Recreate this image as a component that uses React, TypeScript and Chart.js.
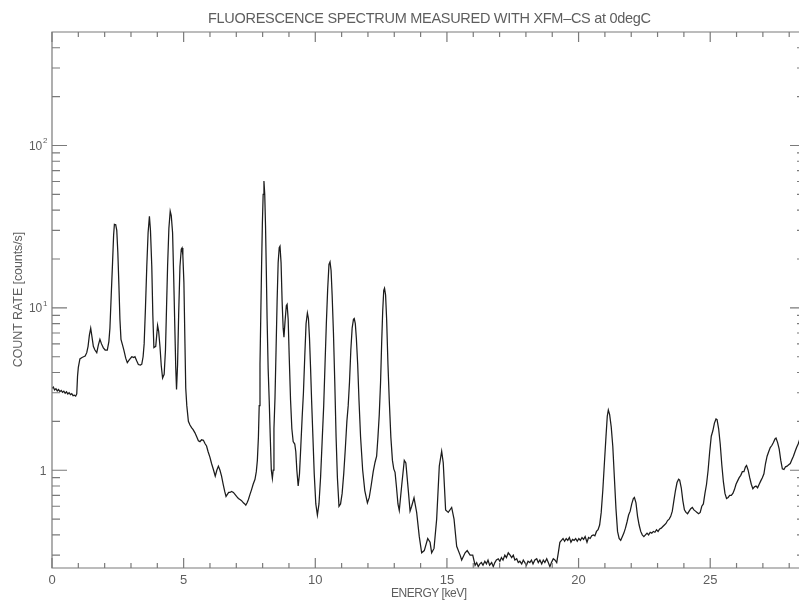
import React, { useEffect, useRef } from "react";
import { Chart, registerables } from "chart.js";

Chart.register(...registerables);

// ---- DATA ----
const energy: number[] = [
  0.0, 0.05, 0.1, 0.15, 0.2, 0.25, 0.3, 0.35, 0.4, 0.45,
  0.5, 0.55, 0.6, 0.65, 0.7, 0.75, 0.8, 0.85, 0.9, 0.94,
  0.97, 1.0, 1.06, 1.14, 1.2, 1.26, 1.32, 1.37, 1.42, 1.47,
  1.52, 1.57, 1.63, 1.7, 1.76, 1.82, 1.88, 1.95, 2.02, 2.1,
  2.16, 2.2, 2.25, 2.3, 2.34, 2.37, 2.42, 2.46, 2.5, 2.54,
  2.58, 2.62, 2.68, 2.73, 2.8, 2.86, 2.94, 3.03, 3.1, 3.15,
  3.22, 3.28, 3.36, 3.41, 3.46, 3.5, 3.55, 3.6, 3.65, 3.7,
  3.74, 3.79, 3.83, 3.87, 3.94, 4.01, 4.05, 4.1, 4.15, 4.2,
  4.26, 4.31, 4.35, 4.39, 4.44, 4.49, 4.53, 4.58, 4.62, 4.67,
  4.7, 4.73, 4.77, 4.81, 4.86, 4.91, 4.94, 4.97, 5.01, 5.05,
  5.08, 5.12, 5.18, 5.24, 5.3, 5.36, 5.43, 5.5, 5.56, 5.62,
  5.68, 5.75, 5.81, 5.87, 5.93, 6.0, 6.06, 6.13, 6.2, 6.26,
  6.32, 6.38, 6.44, 6.5, 6.56, 6.61, 6.66, 6.71, 6.76, 6.82,
  6.89, 6.95, 7.01, 7.08, 7.14, 7.2, 7.27, 7.32, 7.36, 7.41,
  7.46, 7.52, 7.58, 7.64, 7.71, 7.76, 7.8, 7.84, 7.87, 7.9,
  7.93, 7.96, 7.99, 8.02, 8.05, 8.08, 8.11, 8.14, 8.17, 8.21,
  8.25, 8.29, 8.33, 8.37, 8.4, 8.43, 8.47, 8.51, 8.55, 8.59,
  8.63, 8.66, 8.7, 8.74, 8.78, 8.81, 8.85, 8.9, 8.93, 8.97,
  9.01, 9.06, 9.11, 9.16, 9.22, 9.26, 9.3, 9.35, 9.4, 9.45,
  9.5, 9.55, 9.6, 9.65, 9.7, 9.74, 9.78, 9.82, 9.86, 9.91,
  9.96, 10.02, 10.08, 10.14, 10.2, 10.26, 10.32, 10.37, 10.42, 10.47,
  10.52, 10.56, 10.6, 10.64, 10.69, 10.74, 10.79, 10.84, 10.9, 10.96,
  11.02, 11.08, 11.14, 11.2, 11.25, 11.3, 11.35, 11.4, 11.45, 11.48,
  11.52, 11.56, 11.61, 11.66, 11.72, 11.8, 11.88, 11.98, 12.05, 12.12,
  12.2, 12.27, 12.33, 12.38, 12.43, 12.48, 12.52, 12.56, 12.6, 12.63,
  12.67, 12.71, 12.76, 12.81, 12.87, 12.93, 12.98, 13.03, 13.08, 13.14,
  13.19, 13.28, 13.38, 13.44, 13.53, 13.6, 13.66, 13.75, 13.85, 13.95,
  14.04, 14.14, 14.27, 14.36, 14.42, 14.51, 14.61, 14.71, 14.8, 14.86,
  14.95, 15.05, 15.18, 15.27, 15.37, 15.5, 15.56, 15.69, 15.77, 15.88,
  15.98, 16.07, 16.13, 16.19, 16.25, 16.31, 16.37, 16.44, 16.5, 16.56,
  16.62, 16.7, 16.76, 16.82, 16.88, 16.95, 17.01, 17.07, 17.13, 17.2,
  17.26, 17.33, 17.4, 17.46, 17.52, 17.58, 17.65, 17.71, 17.77, 17.84,
  17.9, 17.96, 18.02, 18.08, 18.15, 18.21, 18.27, 18.34, 18.41, 18.47,
  18.53, 18.6, 18.66, 18.72, 18.79, 18.85, 18.91, 18.97, 19.04, 19.1,
  19.17, 19.23, 19.29, 19.35, 19.41, 19.47, 19.53, 19.59, 19.65, 19.71,
  19.77, 19.83, 19.89, 19.95, 20.01, 20.07, 20.13, 20.19, 20.25, 20.32,
  20.38, 20.44, 20.5, 20.56, 20.62, 20.68, 20.74, 20.8, 20.86, 20.92,
  20.98, 21.04, 21.09, 21.13, 21.18, 21.24, 21.3, 21.36, 21.42, 21.48,
  21.54, 21.6, 21.66, 21.72, 21.78, 21.84, 21.9, 21.96, 22.02, 22.08,
  22.12, 22.18, 22.24, 22.3, 22.36, 22.42, 22.48, 22.54, 22.6, 22.66,
  22.72, 22.78, 22.84, 22.9, 22.96, 23.02, 23.08, 23.14, 23.2, 23.26,
  23.32, 23.38, 23.44, 23.5, 23.56, 23.62, 23.68, 23.74, 23.8, 23.84,
  23.9, 23.96, 24.02, 24.08, 24.14, 24.2, 24.26, 24.32, 24.38, 24.44,
  24.5, 24.56, 24.62, 24.68, 24.74, 24.8, 24.86, 24.92, 24.98, 25.04,
  25.1, 25.16, 25.22, 25.26, 25.32, 25.38, 25.44, 25.5, 25.56, 25.62,
  25.68, 25.74, 25.8, 25.86, 25.92, 25.98, 26.04, 26.1, 26.16, 26.22,
  26.28, 26.34, 26.38, 26.44, 26.5, 26.56, 26.62, 26.68, 26.74, 26.8,
  26.86, 26.92, 26.98, 27.04, 27.1, 27.16, 27.22, 27.28, 27.34, 27.4,
  27.46, 27.5, 27.56, 27.62, 27.68, 27.74, 27.8, 27.86, 27.92, 27.98,
  28.04, 28.1, 28.16, 28.22, 28.28, 28.34, 28.4, 28.5, 28.6,
];

const countRate: number[] = [
  3.2, 3.25, 3.12, 3.18, 3.08, 3.14, 3.05, 3.1, 3.02, 3.07,
  2.98, 3.04, 2.95, 3.0, 2.92, 2.96, 2.88, 2.9, 2.86, 2.95,
  3.8, 4.3, 4.85, 4.95, 5.0, 5.05, 5.3, 5.8, 6.8, 7.5,
  6.6, 5.8, 5.5, 5.3, 5.9, 6.4, 6.0, 5.67, 5.5, 5.5,
  6.2, 7.5, 12, 19, 28, 32.7, 32.5, 30, 22, 14,
  8.5, 6.4, 5.9, 5.5, 4.9, 4.6, 4.8, 5.0, 4.95, 5.0,
  4.7, 4.48, 4.45, 4.5, 5.0, 6.0, 10, 18, 29, 36.6,
  30, 18, 9, 5.7, 5.8, 7.8, 7.2, 5.8, 4.4, 3.7,
  3.9, 5.5, 10, 18, 31, 39.4, 37, 29, 16, 7.0,
  4.3, 3.14, 4.5, 9, 18, 23, 23.4, 21, 14.3, 6,
  3.2, 2.5, 2.0, 1.9, 1.83, 1.78, 1.7, 1.6, 1.52, 1.5,
  1.54, 1.53, 1.46, 1.41, 1.3, 1.2, 1.1, 1.01, 0.92, 1.0,
  1.06, 1.0, 0.92, 0.82, 0.74, 0.69, 0.71, 0.73, 0.73, 0.74,
  0.73, 0.71, 0.69, 0.67, 0.66, 0.65, 0.63, 0.62, 0.61, 0.63,
  0.66, 0.71, 0.76, 0.82, 0.88, 0.98, 1.15, 1.6, 2.5, 4.5,
  9, 18, 33, 50, 60.5, 50, 32, 17, 8.5, 4.2,
  2.7, 1.6, 1.0, 0.89, 1.0, 1.8, 2.8, 5.5, 11, 19,
  23.5, 24, 19, 11, 7.5, 6.6, 8.2, 10.3, 10.5, 8.5,
  5.0, 2.72, 1.8, 1.5, 1.45, 1.3, 1.0, 0.8, 0.95, 1.4,
  2.1, 3.0, 5.0, 8.0, 9.3, 8.6, 6.5, 4.3, 2.7, 1.6,
  0.95, 0.62, 0.53, 0.62, 0.9, 1.5, 2.5, 4.5, 8, 13,
  18.5, 19.2, 17, 12, 7, 3.5, 1.6, 0.9, 0.6, 0.62,
  0.72, 0.95, 1.35, 2.0, 2.5, 3.5, 5.5, 7.5, 8.5, 8.6,
  8.0, 6.5, 4.5, 2.7, 1.6, 1.0, 0.75, 0.63, 0.68, 0.8,
  0.98, 1.12, 1.22, 1.6, 2.2, 3.5, 6, 9.5, 12.8, 13.2,
  12, 8.5, 4.5, 2.7, 1.6, 1.15, 1.02, 0.97, 0.8, 0.62,
  0.565, 0.8, 1.15, 1.11, 0.76, 0.56, 0.6, 0.676, 0.55, 0.39,
  0.31, 0.32, 0.38, 0.36, 0.31, 0.33, 0.5, 1.06, 1.31, 1.11,
  0.57, 0.55, 0.59, 0.5, 0.34, 0.3, 0.28, 0.31, 0.32, 0.3,
  0.3, 0.26, 0.27, 0.255, 0.265, 0.27, 0.26, 0.275, 0.265, 0.28,
  0.26, 0.27, 0.255, 0.27, 0.28, 0.285, 0.275, 0.29, 0.28, 0.3,
  0.29, 0.31, 0.3, 0.29, 0.3, 0.28, 0.285, 0.27, 0.275, 0.265,
  0.28, 0.27, 0.26, 0.275, 0.27, 0.28, 0.265, 0.28, 0.285, 0.27,
  0.28, 0.265, 0.28, 0.27, 0.285, 0.27, 0.255, 0.27, 0.285, 0.28,
  0.27, 0.31, 0.36, 0.37, 0.38, 0.365, 0.38, 0.37, 0.385, 0.36,
  0.375, 0.37, 0.38, 0.365, 0.38, 0.37, 0.385, 0.375, 0.39, 0.36,
  0.385, 0.38, 0.395, 0.4, 0.395, 0.42, 0.43, 0.46, 0.55, 0.75,
  1.1, 1.6, 2.15, 2.35, 2.2, 1.85, 1.4, 0.9, 0.58, 0.42,
  0.38, 0.37, 0.39, 0.41, 0.44, 0.48, 0.53, 0.56, 0.62, 0.67,
  0.68, 0.63, 0.52, 0.46, 0.42, 0.4, 0.39, 0.4, 0.41, 0.4,
  0.415, 0.41, 0.42, 0.415, 0.43, 0.42, 0.435, 0.44, 0.45, 0.46,
  0.47, 0.49, 0.5, 0.52, 0.56, 0.65, 0.75, 0.84, 0.88, 0.87,
  0.78, 0.65, 0.57, 0.55, 0.54, 0.56, 0.58, 0.59, 0.57, 0.56,
  0.55, 0.54, 0.55, 0.6, 0.62, 0.72, 0.82, 1.0, 1.3, 1.62,
  1.75, 1.95, 2.07, 2.05, 1.8, 1.45, 1.08, 0.85, 0.72, 0.67,
  0.68, 0.7, 0.7, 0.72, 0.76, 0.82, 0.86, 0.9, 0.93, 0.98,
  0.98, 1.05, 1.07, 1.0, 0.9, 0.82, 0.77, 0.79, 0.8, 0.78,
  0.82, 0.86, 0.9, 0.95, 1.1, 1.22, 1.3, 1.38, 1.42, 1.48,
  1.56, 1.58, 1.48, 1.35, 1.15, 1.02, 1.01, 1.05, 1.06, 1.08,
  1.1, 1.16, 1.22, 1.3, 1.38, 1.45, 1.55, 1.7, 1.85,
];

const xMajorTicks: number[] = [0, 5, 10, 15, 20, 25];
const xTickLabels: string[] = ["0", "5", "10", "15", "20", "25"];
const xMinorTicks: number[] = [
  1, 2, 3, 4, 6, 7, 8, 9, 11, 12, 13, 14, 16, 17, 18, 19, 21, 22, 23, 24, 26, 27, 28,
];
const yMajorTicks: number[] = [1, 10, 100];
const yTickBase: string[] = ["1", "10", "10"];
const yTickExponent: string[] = ["", "1", "2"];
const yMinorTicks: number[] = [
  0.3, 0.4, 0.5, 0.6, 0.7, 0.8, 0.9, 2, 3, 4, 5, 6, 7, 8, 9, 20, 30, 40, 50, 60, 70, 80, 90, 200, 300, 400,
];

const titleText = "FLUORESCENCE SPECTRUM MEASURED WITH XFM\u2013CS at 0degC";
const xTitle = "ENERGY [keV]";
const yTitle = "COUNT RATE [counts/s]";

const X_MIN = 0;
const X_MAX = 28.6;
const Y_MIN = 0.25;
const Y_MAX = 500;

const FONT = '"Liberation Sans", Arial, Helvetica, sans-serif';
const AXIS_COLOR = "#7a7a7a";
const TEXT_COLOR = "#5e5e5e";

function drawFitted(ctx: CanvasRenderingContext2D, text: string, x: number, y: number, width: number) {
  (ctx as any).letterSpacing = "0px";
  const w = ctx.measureText(text).width;
  const ls = (width - w) / Math.max(1, text.length - 1);
  (ctx as any).letterSpacing = ls + "px";
  ctx.textAlign = "left";
  ctx.fillText(text, x, y);
  (ctx as any).letterSpacing = "0px";
}

const framePlugin = {
  id: "idlFrame",
  afterDraw(chart: any) {
    const ctx: CanvasRenderingContext2D = chart.ctx;
    const { left, right, top, bottom } = chart.chartArea;
    const xs = chart.scales.x;
    const ys = chart.scales.y;
    ctx.save();
    ctx.strokeStyle = AXIS_COLOR;
    ctx.lineWidth = 1.2;
    // box
    ctx.beginPath();
    ctx.moveTo(left, top);
    ctx.lineTo(right, top);
    ctx.lineTo(right, bottom);
    ctx.lineTo(left, bottom);
    ctx.closePath();
    ctx.stroke();
    // x ticks (bottom and top, inward)
    ctx.beginPath();
    const xt = (v: number, len: number) => {
      const px = xs.getPixelForValue(v);
      ctx.moveTo(px, bottom);
      ctx.lineTo(px, bottom - len);
      ctx.moveTo(px, top);
      ctx.lineTo(px, top + len);
    };
    xMajorTicks.forEach((v) => xt(v, 10));
    xMinorTicks.forEach((v) => xt(v, 5));
    const yt = (v: number, len: number) => {
      const py = ys.getPixelForValue(v);
      ctx.moveTo(left, py);
      ctx.lineTo(left + len, py);
      ctx.moveTo(right, py);
      ctx.lineTo(right - len, py);
    };
    yMajorTicks.forEach((v) => yt(v, 15));
    yMinorTicks.forEach((v) => yt(v, 8));
    ctx.stroke();

    ctx.fillStyle = TEXT_COLOR;
    ctx.textBaseline = "alphabetic";
    // x tick labels
    ctx.font = `13px ${FONT}`;
    ctx.textAlign = "center";
    xMajorTicks.forEach((v, i) => {
      ctx.fillText(xTickLabels[i], xs.getPixelForValue(v), bottom + 15.5);
    });
    // y tick labels
    yMajorTicks.forEach((v, i) => {
      const py = ys.getPixelForValue(v);
      const base = yTickBase[i];
      const exp = yTickExponent[i];
      const R = left - 4.5;
      ctx.textAlign = "left";
      if (!exp) {
        ctx.font = `12px ${FONT}`;
        const w = ctx.measureText(base).width;
        ctx.fillText(base, R - 1 - w, py + 4.3);
      } else {
        ctx.font = `8px ${FONT}`;
        const we = ctx.measureText(exp).width;
        ctx.font = `12px ${FONT}`;
        const wb = ctx.measureText(base).width;
        ctx.fillText(base, R - we - 0.8 - wb, py + 4.3);
        ctx.font = `8px ${FONT}`;
        ctx.fillText(exp, R - we, py - 2.2);
      }
    });
    // title
    ctx.font = `14.5px ${FONT}`;
    drawFitted(ctx, titleText, 208, 23.3, 443);
    // x axis title
    ctx.font = `12px ${FONT}`;
    drawFitted(ctx, xTitle, 391, 597.3, 76);
    // y axis title
    ctx.save();
    ctx.translate(21.7, 367.3);
    ctx.rotate(-Math.PI / 2);
    ctx.font = `12.5px ${FONT}`;
    drawFitted(ctx, yTitle, 0, 0, 135.5);
    ctx.restore();
    ctx.restore();
  },
};

export default function App() {
  const canvasRef = useRef<HTMLCanvasElement | null>(null);

  useEffect(() => {
    document.body.style.margin = "0";
    document.body.style.background = "#ffffff";
    const canvas = canvasRef.current;
    if (!canvas) return;
    const points = energy.map((e, i) => ({ x: e, y: countRate[i] }));
    const chart = new Chart(canvas, {
      type: "line",
      data: {
        datasets: [
          {
            data: points,
            borderColor: "#1c1c1c",
            borderWidth: 1.25,
            pointRadius: 0,
            tension: 0,
            fill: false,
          },
        ],
      },
      options: {
        animation: false,
        responsive: false,
        devicePixelRatio: 1,
        parsing: true,
        layout: { padding: { left: 52, top: 32, right: 7, bottom: 32 } },
        scales: {
          x: { type: "linear", min: X_MIN, max: X_MAX, display: false },
          y: { type: "logarithmic", min: Y_MIN, max: Y_MAX, display: false },
        },
        plugins: {
          legend: { display: false },
          tooltip: { enabled: false },
          title: { display: false },
        },
      },
      plugins: [framePlugin],
    });
    return () => chart.destroy();
  }, []);

  return (
    <div style={{ width: 799, height: 600, overflow: "hidden", position: "relative", background: "#fff" }}>
      <canvas ref={canvasRef} width={812} height={600} style={{ width: 812, height: 600, display: "block" }} />
    </div>
  );
}
